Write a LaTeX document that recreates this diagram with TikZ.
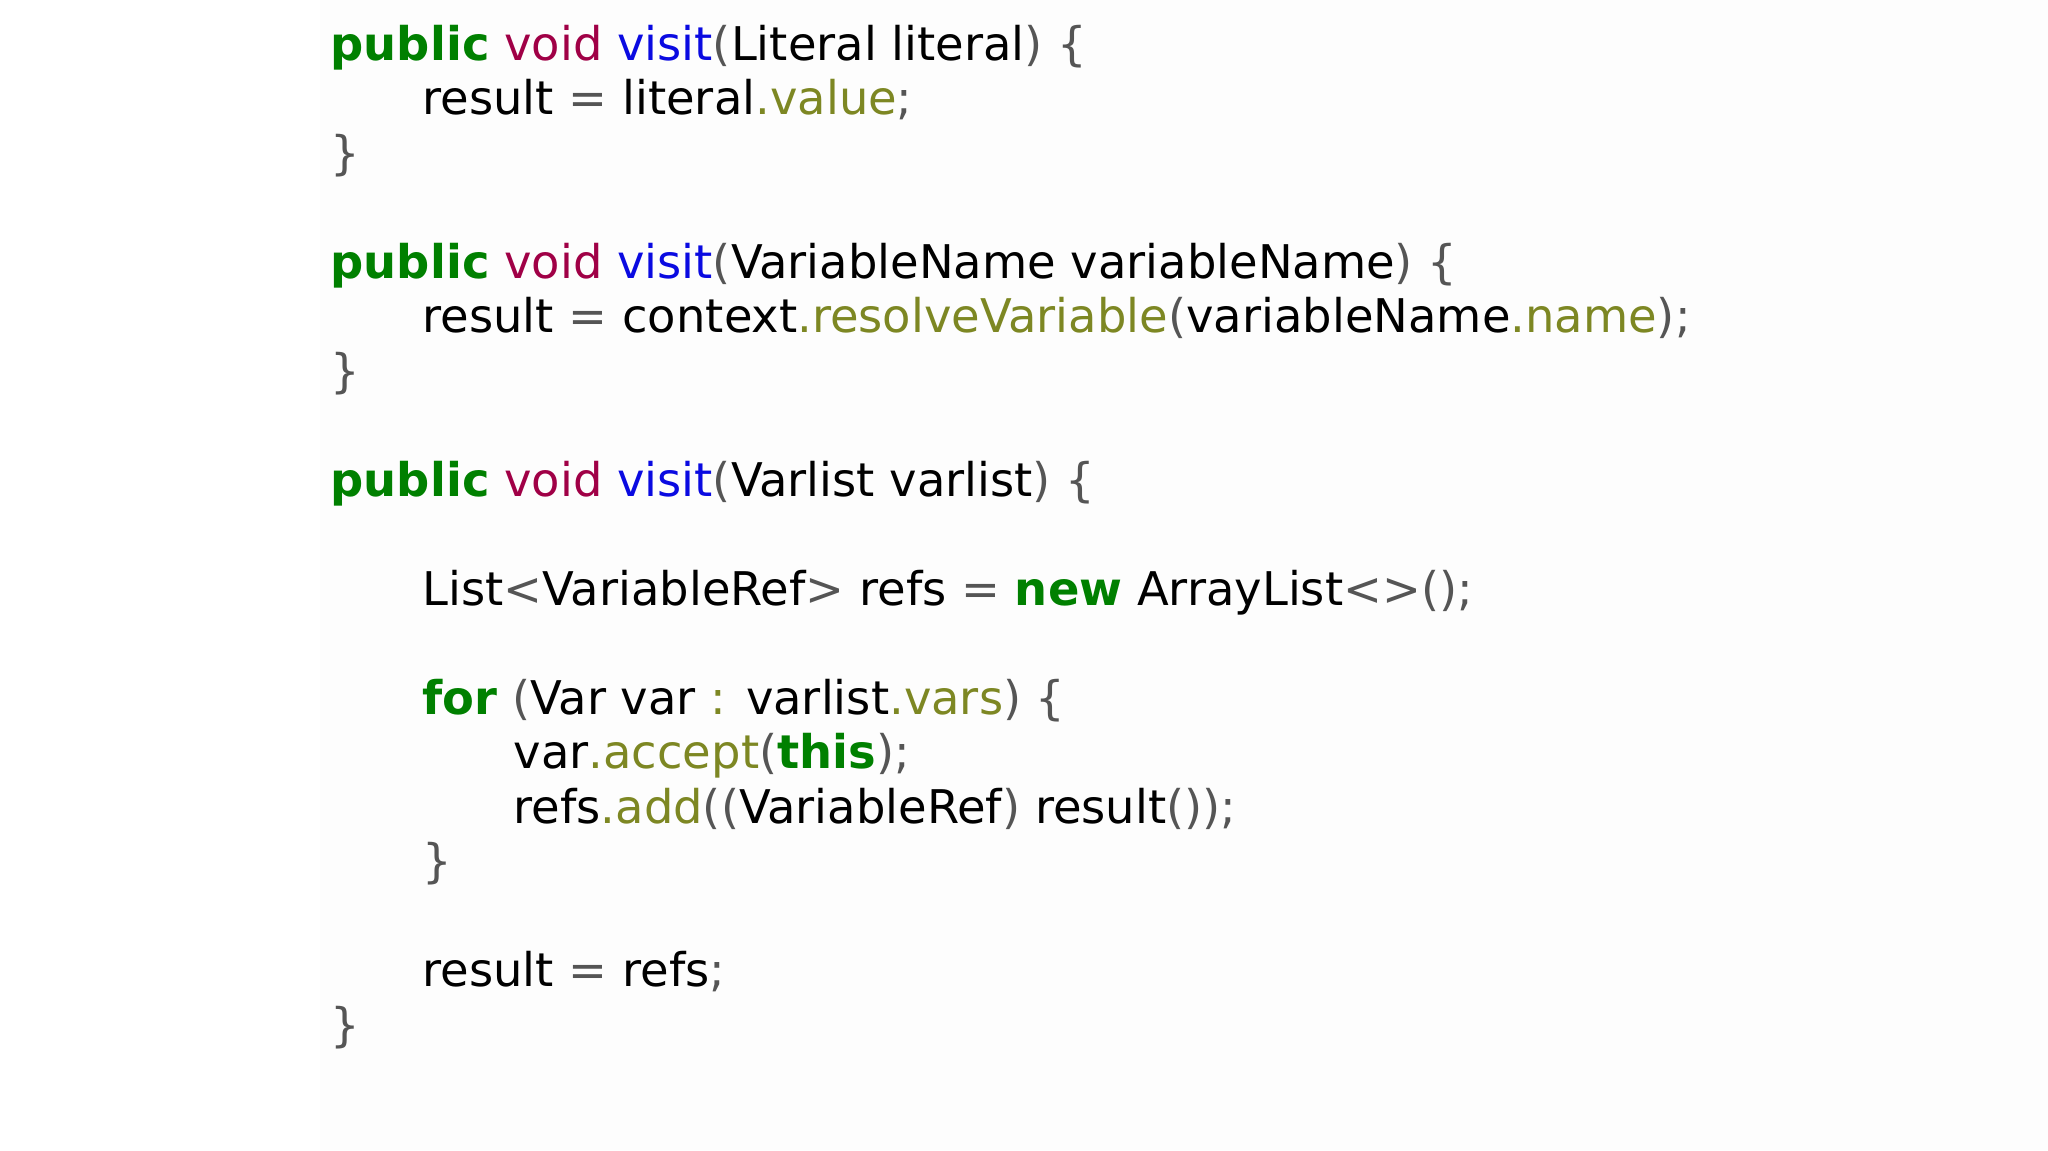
\documentclass[tikz,border=0pt]{standalone}
\usepackage{fontspec}
\setmainfont{DejaVu Sans}
\definecolor{kwc}{RGB}{0,128,0}
\definecolor{tyc}{RGB}{160,0,70}
\definecolor{fnc}{RGB}{10,10,225}
\definecolor{flc}{RGB}{125,135,35}
\definecolor{puc}{RGB}{85,85,85}
\newcommand{\mykw}[1]{\textcolor{kwc}{\bfseries #1}}
\newcommand{\myty}[1]{\textcolor{tyc}{#1}}
\newcommand{\myfn}[1]{\textcolor{fnc}{#1}}
\newcommand{\myfl}[1]{\textcolor{flc}{#1}}
\newcommand{\mypu}[1]{\textcolor{puc}{#1}}
\begin{document}
\begin{tikzpicture}[x=0.01cm,y=-0.01cm,
  code/.style={anchor=base west,inner sep=0pt,font=\fontsize{13.2}{15}\selectfont}]
\useasboundingbox (0,0) rectangle (2048,1150);
\fill[black!0.8] (320,0) rectangle (2048,1150);
\def\L#1{60+#1*54.5-54.5}
\node[code] (l1) at (330,{\L{1}}) {\mykw{public} \myty{void} \myfn{visit}\mypu{(}Literal literal\mypu{) \{}};
\node[code] (l2) at (422,{\L{2}}) {result \mypu{=} literal\myfl{.value}\mypu{;}};
\node[code] (l3) at (330,{\L{3}}) {\mypu{\}}};
\node[code] (l5) at (330,{\L{5}}) {\mykw{public} \myty{void} \myfn{visit}\mypu{(}VariableName variableName\mypu{) \{}};
\node[code] (l6) at (422,{\L{6}}) {result \mypu{=} context\myfl{.resolveVariable}\mypu{(}variableName\myfl{.name}\mypu{);}};
\node[code] (l7) at (330,{\L{7}}) {\mypu{\}}};
\node[code] (l9) at (330,{\L{9}}) {\mykw{public} \myty{void} \myfn{visit}\mypu{(}Varlist varlist\mypu{) \{}};
\node[code] (l11) at (422,{\L{11}}) {List\mypu{<}VariableRef\mypu{>} refs \mypu{=} \mykw{new} ArrayList\mypu{<>();}};
\node[code] (l13) at (422,{\L{13}}) {\mykw{for} \mypu{(}Var var \myfl{:} varlist\myfl{.vars}\mypu{) \{}};
\node[code] (l14) at (513,{\L{14}}) {var\myfl{.accept}\mypu{(}\mykw{this}\mypu{);}};
\node[code] (l15) at (513,{\L{15}}) {refs\myfl{.add}\mypu{((}VariableRef\mypu{)} result\mypu{());}};
\node[code] (l16) at (422,{\L{16}}) {\mypu{\}}};
\node[code] (l18) at (422,{\L{18}}) {result \mypu{=} refs\mypu{;}};
\node[code] (l19) at (330,{\L{19}}) {\mypu{\}}};
\end{tikzpicture}
\end{document}
